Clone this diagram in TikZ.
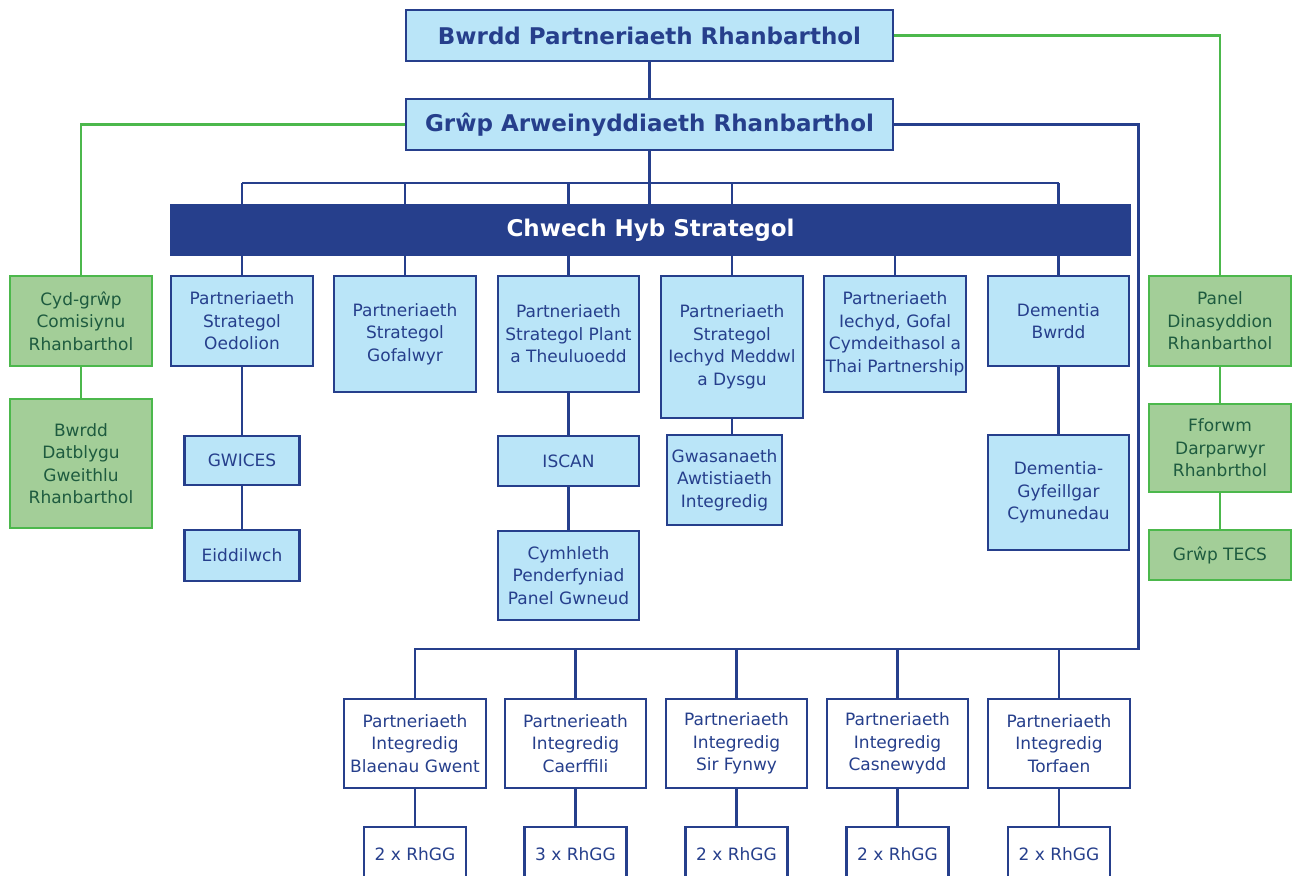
\documentclass[tikz,border=0pt]{standalone}
\usepackage{fontspec}
\setmainfont{DejaVu Sans}
\definecolor{glas}{HTML}{263F8C}
\definecolor{glasgolau}{HTML}{BAE5F8}
\definecolor{gwyrdd}{HTML}{4CB84C}
\definecolor{gwyrddgolau}{HTML}{A3CE98}
\definecolor{gwyrddtywyll}{HTML}{1E5B3F}
\tikzset{
  blwch/.style={draw=glas, fill=glasgolau, text=glas, line width=2.3pt, align=center,
    inner sep=0pt, font=\fontsize{17}{22.5}\selectfont},
  blwchgwyn/.style={blwch, fill=white},
  blwchgwyrdd/.style={blwch, draw=gwyrdd, fill=gwyrddgolau, text=gwyrddtywyll},
  pennawd/.style={blwch, font=\bfseries\fontsize{23}{28}\selectfont},
  llinell/.style={draw=glas, line width=2.3pt},
  llinellwyrdd/.style={draw=gwyrdd, line width=2.3pt},
}
\begin{document}
\begin{tikzpicture}[x=1pt, y=-1pt]
		\clip (0,0) rectangle (1295,875);
		\fill[white] (0,0) rectangle (1295,875);

		% Byrddau rhanbarthol ---------------------------------------------
		\node[pennawd, minimum width=487, minimum height=51] (bpr) at (649.5,35.5) {Bwrdd Partneriaeth Rhanbarthol};
		\node[pennawd, minimum width=487, minimum height=51] (gar) at (649.5,124.5) {Grŵp Arweinyddiaeth Rhanbarthol};
		\node[fill=glas, text=white, font=\bfseries\fontsize{23}{28}\selectfont, minimum width=961, minimum height=52, inner sep=0pt] (hyb) at (650.5,230) {Chwech Hyb Strategol};
		\coordinate (bws) at (650,183); % llinell uwchben yr hybiau

		% Hybiau strategol ---------------------------------------------------
		\node[blwch, minimum width=142, minimum height=90] (oed) at (242,321) {Partneriaeth\\Strategol\\Oedolion};
		\node[blwch, minimum width=142, minimum height=116] (gofal) at (405,334) {Partneriaeth\\Strategol\\Gofalwyr};
		\node[blwch, minimum width=141, minimum height=116] (plant) at (568.5,334) {Partneriaeth\\Strategol Plant\\a Theuluoedd};
		\node[blwch, minimum width=142, minimum height=142] (meddwl) at (732,347) {Partneriaeth\\Strategol\\Iechyd Meddwl\\a Dysgu};
		\node[blwch, minimum width=142, minimum height=116] (thai) at (895,334) {Partneriaeth\\Iechyd, Gofal\\Cymdeithasol a\\Thai Partnership};
		\node[blwch, minimum width=141, minimum height=90] (dem) at (1058.5,321) {Dementia\\Bwrdd};

		\node[blwch, minimum width=115, minimum height=49] (gwices) at (242,460.5) {GWICES};
		\node[blwch, minimum width=115, minimum height=51] (eidd) at (242,555.5) {Eiddilwch};
		\node[blwch, minimum width=141, minimum height=50] (iscan) at (568.5,461) {ISCAN};
		\node[blwch, minimum width=141, minimum height=89] (cymh) at (568.5,575.5) {Cymhleth\\Penderfyniad\\Panel Gwneud};
		\node[blwch, minimum width=115, minimum height=90] (gwas) at (724.5,480) {Gwasanaeth\\Awtistiaeth\\Integredig};
		\node[blwch, minimum width=141, minimum height=115] (demg) at (1058.5,492.5) {Dementia-\\Gyfeillgar\\Cymunedau};

		% Grwpiau gwyrdd ---------------------------------------------------
		\node[blwchgwyrdd, minimum width=142, minimum height=90] (cyd) at (81,321) {Cyd-grŵp\\Comisiynu\\Rhanbarthol};
		\node[blwchgwyrdd, minimum width=142, minimum height=129] (datblygu) at (81,463.5) {Bwrdd\\Datblygu\\Gweithlu\\Rhanbarthol};
		\node[blwchgwyrdd, minimum width=142, minimum height=90] (panel) at (1220,321) {Panel\\Dinasyddion\\Rhanbarthol};
		\node[blwchgwyrdd, minimum width=142, minimum height=88] (fforwm) at (1220,448) {Fforwm\\Darparwyr\\Rhanbrthol};
		\node[blwchgwyrdd, minimum width=142, minimum height=50] (tecs) at (1220,555) {Grŵp TECS};

		% Partneriaethau integredig ---------------------------------------------------
		\coordinate (rbus) at (1138.5,649); % llinell uwchben y partneriaethau
		\node[blwchgwyn, minimum width=142, minimum height=89] (blaen) at (415,743.5) {Partneriaeth\\Integredig\\Blaenau Gwent};
		\node[blwchgwyn, minimum width=141, minimum height=89] (caer) at (575.5,743.5) {Partnerieath\\Integredig\\Caerffili};
		\node[blwchgwyn, minimum width=141, minimum height=89] (sir) at (736.5,743.5) {Partneriaeth\\Integredig\\Sir Fynwy};
		\node[blwchgwyn, minimum width=141, minimum height=89] (casn) at (897.5,743.5) {Partneriaeth\\Integredig\\Casnewydd};
		\node[blwchgwyn, minimum width=142, minimum height=89] (torf) at (1059,743.5) {Partneriaeth\\Integredig\\Torfaen};

		\node[blwchgwyn, minimum width=102, minimum height=54] (rh1) at (415,854) {2 x RhGG};
		\node[blwchgwyn, minimum width=102, minimum height=54] (rh2) at (575.5,854) {3 x RhGG};
		\node[blwchgwyn, minimum width=102, minimum height=54] (rh3) at (736.5,854) {2 x RhGG};
		\node[blwchgwyn, minimum width=102, minimum height=54] (rh4) at (897.5,854) {2 x RhGG};
		\node[blwchgwyn, minimum width=102, minimum height=54] (rh5) at (1059,854) {2 x RhGG};

		% Cysylltiadau ---------------------------------------------------
		\draw[llinell] (bpr) -- (gar);
		\draw[llinellwyrdd] (bpr.east) -| (panel.north);
		\draw[llinellwyrdd] (gar.west) -| (cyd.north);
		\draw[llinell] (gar.east) -| (rbus) -| (blaen.north);
		\foreach \n in {caer,sir,casn,torf}
			\draw[llinell] (\n.north) -- (\n.north |- rbus);

		\draw[llinell] (gar.south) -- (gar.south |- hyb.north);
		\draw[llinell] (oed.north |- bws) -- (dem.north |- bws);
		\foreach \n in {oed,gofal,plant,meddwl,dem}
			\draw[llinell] (\n.north |- bws) -- (\n.north |- hyb.north);
		\foreach \n in {oed,gofal,plant,meddwl,thai,dem}
			\draw[llinell] (\n.north) -- (\n.north |- hyb.south);

		\draw[llinell] (oed) -- (gwices) (gwices) -- (eidd);
		\draw[llinell] (plant) -- (iscan) (iscan) -- (cymh);
		\draw[llinell] (meddwl.south) -- (meddwl.south |- gwas.north);
		\draw[llinell] (dem) -- (demg);
		\draw[llinellwyrdd] (cyd) -- (datblygu);
		\draw[llinellwyrdd] (panel) -- (fforwm) (fforwm) -- (tecs);
		\draw[llinell] (blaen) -- (rh1) (caer) -- (rh2) (sir) -- (rh3) (casn) -- (rh4) (torf) -- (rh5);
	\end{tikzpicture}
\end{document}
